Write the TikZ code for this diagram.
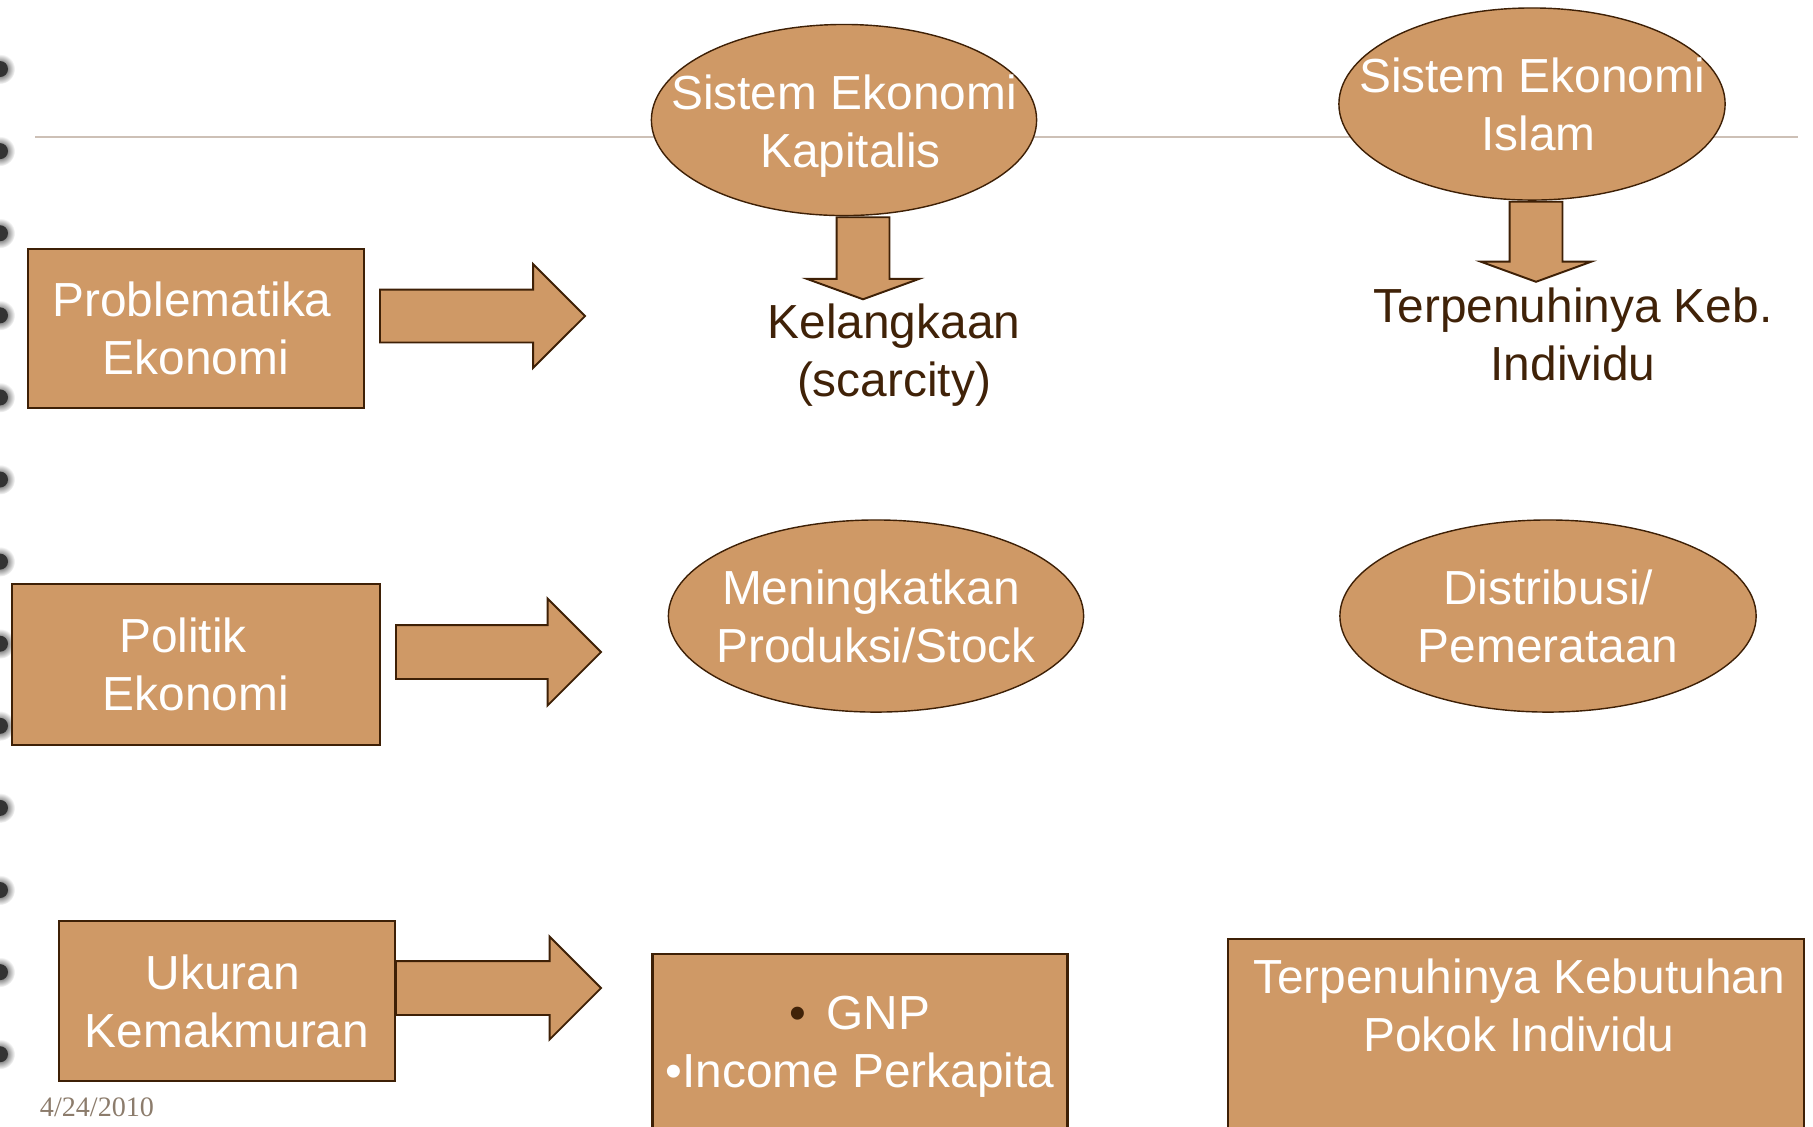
\documentclass[tikz,border=0pt]{standalone}
\usepackage{fontspec}
\setmainfont{Liberation Sans}
\newfontfamily\datefont{Liberation Serif}
\usetikzlibrary{shapes.geometric,shapes.arrows}
\usepackage{xcolor}

\definecolor{tanfill}{RGB}{207,153,102}
\definecolor{edgebrown}{RGB}{62,32,6}
\definecolor{textbrown}{RGB}{64,34,8}
\definecolor{rulegrey}{RGB}{205,192,182}
\definecolor{dategrey}{RGB}{140,124,108}
\newcommand\bigtxt{\fontsize{13.6}{16.5}\selectfont}

\tikzset{
  box/.style={draw=edgebrown, fill=tanfill, line width=0.7pt, text=white, align=center, inner sep=0pt, font=\bigtxt},
  oval/.style={ellipse, draw=edgebrown, fill=tanfill, line width=0.4pt, inner sep=0pt},
  ovaltext/.style={text=white, align=center, inner sep=0pt, font=\bigtxt},
  barrow/.style={single arrow, draw=edgebrown, fill=tanfill, line width=0.55pt, anchor=tail},
  subtext/.style={text=textbrown, align=center, font=\bigtxt},
}

\begin{document}
\begin{tikzpicture}[x=0.01cm,y=-0.01cm]

\useasboundingbox (0,0) rectangle (1813,1126);
\clip (0,0) rectangle (1813,1126);

\foreach \i in {0,...,12} {
  \shade[inner color=black!90, outer color=white] (0,69+82.1*\i) circle (0.15cm);
  \fill[black!80] (0,69+82.1*\i) circle (0.08cm);
}

\draw[rulegrey, line width=0.45pt] (35,137) -- (1798,137);

\node[box, minimum width=3.36cm, minimum height=1.59cm] (prob) at (196,328.5) {Problematika\hspace*{0.08cm}\\Ekonomi};
\node[box, minimum width=3.68cm, minimum height=1.61cm] (pol) at (196,664.5) {Politik\hspace*{0.26cm}\\Ekonomi};
\node[box, minimum width=3.36cm, minimum height=1.6cm] (ukur) at (227,1001) {Ukuran\hspace*{0.08cm}\\Kemakmuran};

\node[barrow, inner sep=0.255cm, minimum height=2.05cm, single arrow head extend=0.255cm, single arrow tip angle=90] (arr1) at (379,316) {};
\node[barrow, inner sep=0.26cm, minimum height=2.05cm, single arrow head extend=0.265cm, single arrow tip angle=90] (arr2) at (395,652) {};
\node[barrow, inner sep=0.26cm, minimum height=2.05cm, single arrow head extend=0.245cm, single arrow tip angle=90] (arr3) at (395,988) {};

\node[oval, minimum width=3.85cm, minimum height=1.91cm, label={[ovaltext, yshift=-0.06cm]center:Sistem Ekonomi\\\hspace{0.13cm}Kapitalis}] (ekap) at (844,120) {};
\node[oval, minimum width=3.86cm, minimum height=1.92cm, label={[ovaltext]center:Sistem Ekonomi\\\hspace{0.13cm}Islam}] (eisl) at (1532,104) {};
\node[oval, minimum width=4.15cm, minimum height=1.92cm, label={[ovaltext]center:Meningkatkan\hspace*{0.1cm}\\Produksi/Stock}] (emen) at (876,616) {};
\node[oval, minimum width=4.16cm, minimum height=1.92cm, label={[ovaltext]center:Distribusi/\\Pemerataan}] (edis) at (1548,616) {};

\node[barrow, shape border rotate=270, inner sep=0.255cm, minimum height=0.82cm, single arrow head extend=0.295cm, single arrow tip angle=140] (dkap) at ([xshift=0.19cm]ekap.south) {};
\node[barrow, shape border rotate=270, inner sep=0.255cm, minimum height=0.8cm, single arrow head extend=0.29cm, single arrow tip angle=140] (disl) at ([xshift=0.04cm]eisl.south) {};

\node[subtext] (kel) at (894,355) {Kelangkaan\\(scarcity)};
\node[subtext] (terp) at (1573,334.5) {Terpenuhinya Keb.\\Individu};

\node[box, minimum width=4.15cm, minimum height=1.86cm] (gnp) at (860,1047) {{\color{textbrown}•}\hspace{0.2cm}GNP\\•Income Perkapita};
\node[box, minimum width=5.76cm, minimum height=2.2cm, anchor=north] (kbox) at (1516,938) {};
\node[ovaltext] (ktext) at (1519,1005.5) {Terpenuhinya Kebutuhan\\Pokok Individu};

\node[font=\datefont\fontsize{8}{9.6}\selectfont, text=dategrey] (date) at (97,1107) {4/24/2010};

\end{tikzpicture}
\end{document}
